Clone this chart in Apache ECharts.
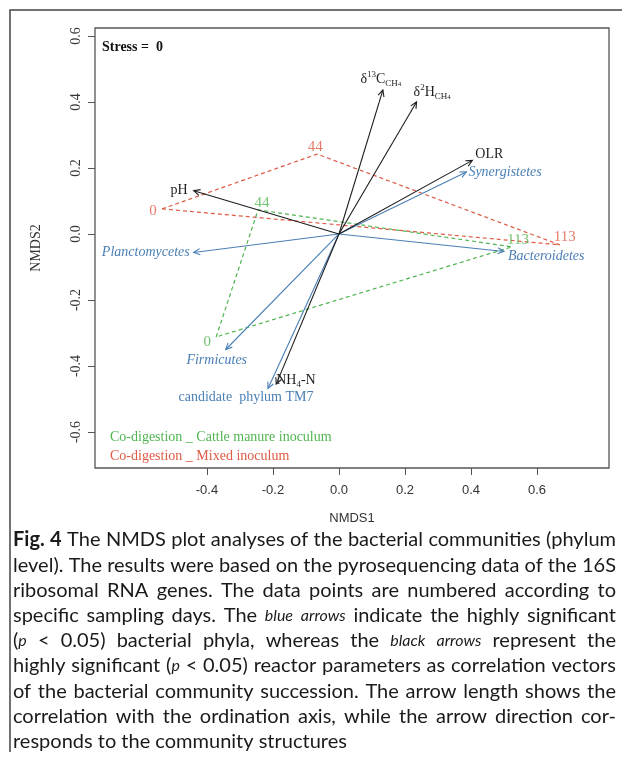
<!DOCTYPE html>
<html>
<head>
<meta charset="utf-8">
<script src="https://cdn.jsdelivr.net/npm/echarts@6/dist/echarts.min.js"></script>
<style>
  html, body { margin: 0; padding: 0; background: #fff; }
  #chart { width: 622px; height: 765px; }
</style>
</head>
<body>
<div id="chart"></div>
<script>
// NMDS scores
const sampleDays = ['0', '44', '113'];
const mixedX = [-0.536, -0.066, 0.669];
const mixedY = [0.076, 0.242, -0.033];
const cattleX = [-0.372, -0.245, 0.524];
const cattleY = [-0.312, 0.073, -0.039];

// reactor parameters (black arrows)
const envNames = ['pH', 'OLR', 'δ13C CH4', 'δ2H CH4', 'NH4-N'];
const envX = [-0.44, 0.404, 0.133, 0.235, -0.19];
const envY = [0.131, 0.223, 0.436, 0.40, -0.455];

// bacterial phyla (blue arrows)
const phylaNames = ['Synergistetes', 'Planctomycetes', 'Bacteroidetes', 'Firmicutes', 'candidate phylum TM7'];
const phylaX = [0.386, -0.44, 0.50, -0.343, -0.215];
const phylaY = [0.188, -0.056, -0.053, -0.35, -0.468];

const xTicks = [-0.4, -0.2, 0, 0.2, 0.4, 0.6];
const yTicks = [-0.6, -0.4, -0.2, 0, 0.2, 0.4, 0.6];

const RED = '#dd5a45';
const GREEN = '#50b450';
const BLUE = '#4a7fb5';
const BLACK = '#1e1e1e';
const SERIF = '"Liberation Serif", "DejaVu Serif", serif';
const SANS = '"Liberation Sans", Arial, sans-serif';

// how each arrow label sits next to its head (pixels)
const envLabels = [
  { text: 'pH', dx: -6, dy: 0, align: 'right' },
  { text: 'OLR', dx: 3, dy: -6, align: 'left' },
  { text: 'δ{sup|13}C{sub|CH}{ss|4}', dx: -2, dy: -11, align: 'center' },
  { text: 'δ{sup|2}H{sub|CH}{ss|4}', dx: -3, dy: -10, align: 'left' },
  { text: 'NH{sub|4}-N', dx: 0, dy: -4, align: 'left' }
];
const phylaLabels = [
  { text: 'Synergistetes', dx: 2, dy: 0, align: 'left', italic: true },
  { text: 'Planctomycetes', dx: -4, dy: 0, align: 'right', italic: true },
  { text: 'Bacteroidetes', dx: 4, dy: 5, align: 'left', italic: true },
  { text: 'Firmicutes', dx: -9, dy: 11, align: 'center', italic: true },
  { text: 'candidate  phylum TM7', dx: -22, dy: 9, align: 'center', italic: false }
];
// offsets of the day numbers from their points
const mixedOffsets = [[-9, 2], [-2, -7], [5, -8]];
const cattleOffsets = [[-9, 5], [4, -7], [6, -7]];

const subRich = {
  sup: { fontSize: 9, fontFamily: SERIF, verticalAlign: 'top', lineHeight: 9 },
  sub: { fontSize: 9, fontFamily: SERIF, verticalAlign: 'bottom', lineHeight: 9 },
  ss: { fontSize: 7, fontFamily: SERIF, verticalAlign: 'bottom', lineHeight: 6 }
};

function closed(xs, ys) {
  const pts = xs.map((x, i) => [x, ys[i]]);
  pts.push(pts[0]);
  return pts;
}

function arrowRenderer(color, labels) {
  return function (params, api) {
    const i = params.dataIndex;
    const o = api.coord([0, 0]);
    const e = api.coord([api.value(0), api.value(1)]);
    const a = Math.atan2(e[1] - o[1], e[0] - o[0]);
    const len = 7, spread = Math.PI / 7;
    const h1 = [e[0] - len * Math.cos(a - spread), e[1] - len * Math.sin(a - spread)];
    const h2 = [e[0] - len * Math.cos(a + spread), e[1] - len * Math.sin(a + spread)];
    const lab = labels[i];
    return {
      type: 'group',
      children: [
        { type: 'line', shape: { x1: o[0], y1: o[1], x2: e[0], y2: e[1] }, style: { stroke: color, lineWidth: 1.1 } },
        { type: 'polyline', shape: { points: [h1, e, h2] }, style: { stroke: color, fill: 'none', lineWidth: 1.1 } },
        {
          type: 'text', x: e[0] + lab.dx, y: e[1] + lab.dy,
          style: {
            text: lab.text, fill: color, align: lab.align, verticalAlign: 'middle',
            font: (lab.italic ? 'italic ' : '') + '14px ' + SERIF,
            lineHeight: 18, rich: subRich
          }
        }
      ]
    };
  };
}

function dayLabels(xs, ys, offsets, color) {
  return {
    type: 'scatter',
    symbolSize: 0,
    z: 4,
    data: xs.map((x, i) => ({
      value: [x, ys[i]],
      name: sampleDays[i],
      label: { offset: offsets[i] }
    })),
    label: {
      show: true, position: 'inside', formatter: '{b}',
      color: color, fontFamily: SERIF, fontSize: 15
    },
    silent: true
  };
}

// caption, one entry per printed line; {b|..} bold, {i|..} italic
const captionLines = [
  '{b|Fig.} {b|4} The NMDS plot analyses of the bacterial communities (phylum',
  'level). The results were based on the pyrosequencing data of the 16S',
  'ribosomal RNA genes. The data points are numbered according to',
  'specific sampling days. The {i|blue} {i|arrows} indicate the highly significant',
  '({i|p} < 0.05) bacterial phyla, whereas the {i|black} {i|arrows} represent the',
  'highly significant ({i|p} < 0.05) reactor parameters as correlation vectors',
  'of the bacterial community succession. The arrow length shows the',
  'correlation with the ordination axis, while the arrow direction cor-',
  'responds to the community structures'
];

const CAP_FAMILY = 'Lato, "Open Sans", sans-serif';
const CAP_SIZE = 20;
const capFonts = {
  '': CAP_SIZE + 'px ' + CAP_FAMILY,
  b: 'bold ' + CAP_SIZE + 'px ' + CAP_FAMILY,
  i: 'italic 16px ' + CAP_FAMILY
};
const capRich = {
  b: { fontWeight: 'bold', fontSize: CAP_SIZE, fontFamily: CAP_FAMILY },
  i: { fontStyle: 'italic', fontSize: 16, fontFamily: CAP_FAMILY }
};

// justify the caption lines between the frame and the right edge
function captionGraphics(left, right, top, step) {
  const ctx = document.createElement('canvas').getContext('2d');
  const tokenWidth = tok => {
    let w = 0;
    tok.replace(/\{(\w)\|([^}]*)\}|([^{]+)/g, (m, tag, inner, plain) => {
      ctx.font = capFonts[tag || ''];
      w += ctx.measureText(tag ? inner : plain).width;
      return m;
    });
    return w;
  };
  ctx.font = capFonts[''];
  const space = ctx.measureText(' ').width;
  const out = [];
  captionLines.forEach((line, li) => {
    const words = line.split(' ');
    const widths = words.map(tokenWidth);
    const total = widths.reduce((s, w) => s + w, 0);
    const last = li === captionLines.length - 1;
    const gap = last ? space : (right - left - total) / (words.length - 1);
    let x = left;
    words.forEach((w, wi) => {
      out.push({
        type: 'text', x: x, y: top + li * step,
        style: { text: w, fill: '#1a1a1a', font: capFonts[''], verticalAlign: 'middle', rich: capRich }
      });
      x += widths[wi] + gap;
    });
  });
  return out;
}

const chart = echarts.init(document.getElementById('chart'));
chart.setOption({
  animation: false,
  backgroundColor: '#fff',
  grid: {
    left: 95, top: 28, width: 514, height: 440,
    show: true, borderColor: '#555', borderWidth: 1.3
  },
  xAxis: {
    type: 'value', min: -0.739, max: 0.818,
    name: 'NMDS1', nameLocation: 'middle', nameGap: 44,
    nameTextStyle: { fontFamily: SANS, fontSize: 13, color: '#333' },
    axisLine: { show: false, onZero: false },
    splitLine: { show: false },
    axisTick: { show: true, customValues: xTicks, length: 7, lineStyle: { color: '#555' } },
    axisLabel: {
      customValues: xTicks, margin: 16,
      formatter: v => v.toFixed(1),
      fontFamily: SANS, fontSize: 13, color: '#333'
    }
  },
  yAxis: {
    type: 'value', min: -0.709, max: 0.624,
    name: 'NMDS2', nameLocation: 'middle', nameGap: 52, nameRotate: 90,
    nameTextStyle: { fontFamily: SERIF, fontSize: 14, color: '#333' },
    axisLine: { show: false, onZero: false },
    splitLine: { show: false },
    axisTick: { show: true, customValues: yTicks, length: 7, lineStyle: { color: '#555' } },
    axisLabel: {
      customValues: yTicks, margin: 12, rotate: 90,
      formatter: v => v.toFixed(1),
      fontFamily: SERIF, fontSize: 14, color: '#333'
    }
  },
  series: [
    {
      type: 'line', data: closed(mixedX, mixedY), symbol: 'none', z: 2,
      lineStyle: { color: RED, width: 1.2, type: [4, 3] }
    },
    {
      type: 'line', data: closed(cattleX, cattleY), symbol: 'none', z: 2,
      lineStyle: { color: GREEN, width: 1.2, type: [4, 3] }
    },
    {
      type: 'custom', z: 3, clip: false,
      data: phylaX.map((x, i) => [x, phylaY[i]]),
      encode: { x: 0, y: 1 },
      renderItem: arrowRenderer(BLUE, phylaLabels)
    },
    {
      type: 'custom', z: 3, clip: false,
      data: envX.map((x, i) => [x, envY[i]]),
      encode: { x: 0, y: 1 },
      renderItem: arrowRenderer(BLACK, envLabels)
    },
    dayLabels(mixedX, mixedY, mixedOffsets, RED),
    dayLabels(cattleX, cattleY, cattleOffsets, GREEN)
  ],
  graphic: [
    // figure frame
    { type: 'polyline', shape: { points: [[10, 752], [10, 10], [622, 10]] }, style: { stroke: '#444', lineWidth: 1.5, fill: 'none' } },
    { type: 'text', left: 102, top: 40, style: { text: 'Stress =  0', font: 'bold 14px ' + SERIF, fill: '#111' } },
    { type: 'text', left: 110, top: 430, style: { text: 'Co-digestion _ Cattle manure inoculum', font: '14px ' + SERIF, fill: GREEN } },
    { type: 'text', left: 110, top: 449, style: { text: 'Co-digestion _ Mixed inoculum', font: '14px ' + SERIF, fill: RED } }
  ].concat(captionGraphics(13, 616, 540, 25.2))
});
</script>
</body>
</html>
